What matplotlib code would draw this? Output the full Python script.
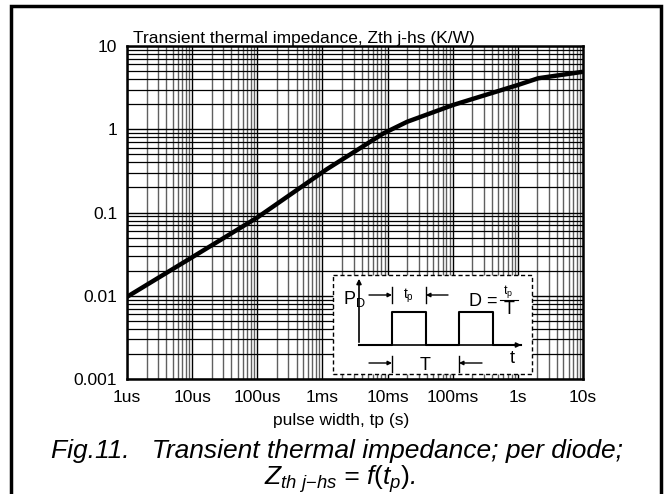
import numpy as np
import matplotlib
matplotlib.use("Agg")
import matplotlib.pyplot as plt
from matplotlib.patches import Rectangle
from matplotlib.ticker import FixedLocator, FixedFormatter, LogLocator, NullFormatter

plt.rcParams['font.family'] = ['Liberation Sans', 'DejaVu Sans']
plt.rcParams['mathtext.fontset'] = 'custom'
plt.rcParams['mathtext.rm'] = 'Liberation Sans'
plt.rcParams['mathtext.it'] = 'Liberation Sans:italic'

# Zth j-hs curve
pulse_width = [1e-6, 1e-5, 1e-4, 1.16e-3, 8.6e-3, 2.0e-2, 0.1, 1.0, 2.06, 10.0]
zth = [0.0097, 0.029, 0.087, 0.33, 0.89, 1.23, 1.95, 3.4, 4.1, 4.9]

x_ticks = [1e-6, 1e-5, 1e-4, 1e-3, 1e-2, 1e-1, 1, 10]
x_labels = ['1us', '10us', '100us', '1ms', '10ms', '100ms', '1s', '10s']
y_ticks = [1e-3, 1e-2, 1e-1, 1, 10]
y_labels = ['0.001', '0.01', '0.1', '1', '10']

W, H = 668, 494
fig = plt.figure(figsize=(W / 100, H / 100), dpi=100)
fig.patch.set_facecolor('white')

def px(x0, y0, x1, y1):
    # pixel box (top-left origin) -> figure fraction rect
    return [x0 / W, 1 - y1 / H, (x1 - x0) / W, (y1 - y0) / H]

ax = fig.add_axes(px(127, 46, 583, 379))
ax.set_xscale('log')
ax.set_yscale('log')
ax.set_xlim(1e-6, 10)
ax.set_ylim(1e-3, 10)

ax.xaxis.set_major_locator(FixedLocator(x_ticks))
ax.xaxis.set_major_formatter(FixedFormatter(x_labels))
ax.yaxis.set_major_locator(FixedLocator(y_ticks))
ax.yaxis.set_major_formatter(FixedFormatter(y_labels))
ax.xaxis.set_minor_locator(LogLocator(base=10, subs=np.arange(2, 10), numticks=20))
ax.yaxis.set_minor_locator(LogLocator(base=10, subs=np.arange(2, 10), numticks=20))
ax.xaxis.set_minor_formatter(NullFormatter())
ax.yaxis.set_minor_formatter(NullFormatter())

ax.tick_params(which='both', length=0)
ax.tick_params(axis='x', pad=8, labelsize=12.5)
ax.tick_params(axis='y', pad=7, labelsize=12.5)

ax.grid(True, which='major', color='black', lw=1.0)
ax.grid(True, which='minor', axis='y', color='black', lw=0.9)
ax.grid(True, which='minor', axis='x', color='#606060', lw=1.0)
for s in ax.spines.values():
    s.set_linewidth(1.8)
    s.set_color('black')

ax.plot(pulse_width, zth, color='black', lw=3.2, solid_capstyle='butt', zorder=5)

fig.text(133 / W, 1 - 43 / H, 'Transient thermal impedance, Zth j-hs (K/W)', fontsize=12.5,
         va='baseline', ha='left')
fig.text(341 / W, 1 - 420 / H, 'pulse width, tp (s)', fontsize=12.5, ha='center', va='center')

# inset: pulse diagram
ins = fig.add_axes(px(333, 274, 532, 374), zorder=10)
ins.set_xlim(0, 199)
ins.set_ylim(100, 0)
ins.axis('off')
ins.add_patch(Rectangle((0, 1), 198.5, 98.5, facecolor='white', edgecolor='black',
                        lw=1.0, ls=(0, (3, 2)), clip_on=False))
ins.annotate('', xy=(26, 2), xytext=(26, 71),
             arrowprops=dict(arrowstyle='-|>', color='black', lw=1.2, mutation_scale=7))
ins.annotate('', xy=(191, 71), xytext=(26, 71),
             arrowprops=dict(arrowstyle='-|>', color='black', lw=1.2, mutation_scale=7))
ins.plot([26, 59, 59, 93, 93, 126, 126, 160, 160, 188],
         [71, 71, 38, 38, 71, 71, 38, 38, 71, 71], color='black', lw=1.5)
# tp markers
for xt, y0, y1 in [(59, 13, 29), (93, 13, 29), (59, 82, 98), (126, 82, 98)]:
    ins.plot([xt, xt], [y0, y1], color='black', lw=1.0)
for xs, xe, yy in [(36, 59, 21), (115, 93, 21), (36, 59, 89), (149, 126, 89)]:
    ins.annotate('', xy=(xe, yy), xytext=(xs, yy),
                 arrowprops=dict(arrowstyle='-|>', color='black', lw=1.0, mutation_scale=6,
                                 shrinkA=0, shrinkB=0))
ins.text(10, 25, r'P$_{\rm D}$', fontsize=13, va='center', ha='left')
ins.text(70, 21.5, r't$_{\rm p}$', fontsize=10, va='center', ha='left')
ins.text(136, 28, 'D =', fontsize=13, va='center', ha='left')
ins.text(170, 17.5, r't$_{\rm p}$', fontsize=9, va='center', ha='left')
ins.plot([167, 185], [25.5, 25.5], color='black', lw=0.8)
ins.text(176, 35, 'T', fontsize=13, va='center', ha='center')
ins.text(92, 91, 'T', fontsize=13, va='center', ha='center')
ins.text(179, 84, 't', fontsize=13, va='center', ha='center')

# caption
fig.text(337 / W, 1 - 451 / H, 'Fig.11.   Transient thermal impedance; per diode;',
         fontsize=19, style='italic', ha='center', va='center')
fig.text(340 / W, 1 - 479 / H, r'$Z_{th\ j{-}hs}$ = $f(t_p)$.',
         fontsize=19, style='italic', ha='center', va='center')

# outer frame
fig.patches.append(Rectangle((11 / W, -0.05), 649.5 / W, 1.05 - 6 / H, fill=False,
                             edgecolor='black', lw=2.5, transform=fig.transFigure,
                             figure=fig))

fig.savefig('out.png', dpi=100, facecolor='white')
